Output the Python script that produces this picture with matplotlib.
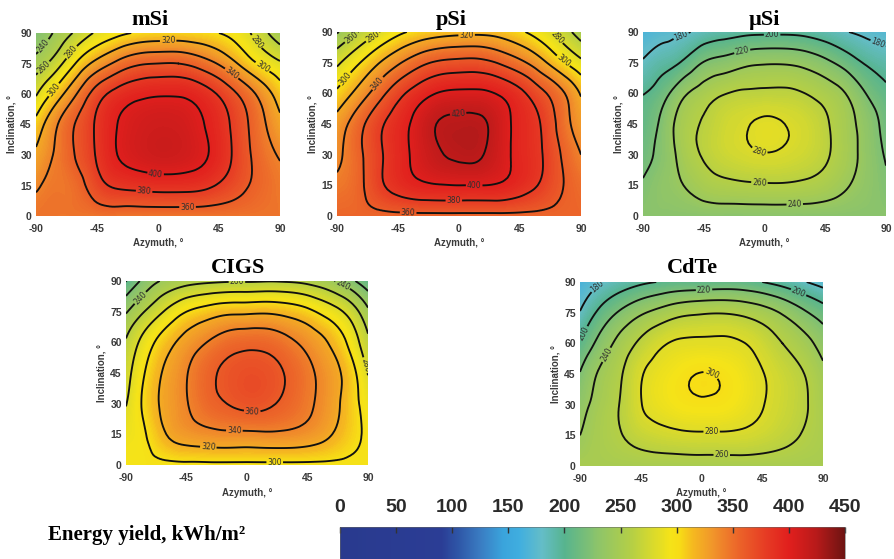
import numpy as np
import matplotlib
matplotlib.use("Agg")
import matplotlib.pyplot as plt
import matplotlib.tri as mtri
from matplotlib import font_manager
from matplotlib.colors import LinearSegmentedColormap, Normalize
from matplotlib.cm import ScalarMappable

# ---------------- data (kWh/m2) ----------------
azimuth = [-90, -75, -60, -45, -30, -15, 0, 15, 30, 45, 60, 75, 90]
inclination = [0, 15, 30, 45, 60, 75, 90]

msi = [
    [347, 347, 347, 347, 347, 347, 347, 347, 347, 347, 347, 347, 347],
    [337, 346, 352, 372, 383, 386, 388, 388, 386, 378, 366, 354, 345],
    [324, 343, 362, 382, 400, 408, 412, 411, 405, 392, 372, 352, 338],
    [307, 338, 362, 383, 400, 408, 411, 410, 403, 390, 370, 347, 325],
    [278, 309, 340, 370, 387, 395, 398, 398, 392, 378, 358, 335, 310],
    [249, 271, 302, 327, 345, 357, 360, 360, 352, 338, 318, 298, 283],
    [222, 244, 264, 283, 294, 302, 305, 306, 304, 300, 290, 270, 245],
]
psi = [
    [355, 355, 355, 355, 355, 355, 355, 355, 355, 355, 355, 355, 355],
    [345, 354, 374, 388, 396, 399, 400, 400, 398, 390, 378, 362, 350],
    [335, 354, 375, 392, 406, 418, 423, 422, 409, 394, 382, 360, 340],
    [328, 351, 374, 391, 407, 421, 424, 423.5, 410, 394, 380, 353, 330],
    [304, 326, 350, 373, 390, 401, 404, 404, 398, 385, 366, 345, 318],
    [276, 297, 318, 337, 353, 363, 366, 366, 358, 345, 327, 305, 285],
    [238, 259, 278, 295, 305, 311, 314, 315, 312, 303, 290, 272, 250],
]
usi = [
    [228, 228, 228, 228, 228, 228, 228, 228, 228, 228, 228, 228, 228],
    [222, 232, 240, 250, 255, 257, 258, 258, 256, 251, 242, 233, 223],
    [214, 228, 248, 262, 271, 276, 279, 277, 272, 263, 249, 234, 218],
    [207, 226, 250, 262, 272, 278, 283, 280, 274, 263, 248, 232, 213],
    [199, 213, 236, 250, 259, 263, 264, 264, 260, 252, 240, 220, 205],
    [182, 192, 203, 221, 228, 235, 238, 238, 234, 225, 212, 198, 190],
    [166, 173, 178, 185, 191, 195, 196, 196, 194, 188, 181, 176, 172],
]
cigs = [
    [296, 296, 296, 296, 296, 296, 296, 296, 296, 296, 296, 296, 296],
    [290, 300, 320, 330, 334, 336, 336, 337, 336, 332, 323, 309, 296],
    [279, 306, 326, 339, 352, 360, 365, 363, 355, 344, 331, 312, 290],
    [272, 302, 324, 339, 354, 364, 369, 367, 358, 345, 331, 312, 279],
    [262, 290, 312, 328, 340, 350, 354, 353, 345, 334, 320, 298, 264],
    [238, 262, 283, 300, 309, 315, 316, 317, 313, 305, 292, 275, 244],
    [199, 228, 244, 252, 256, 258, 258, 259, 258, 254, 245, 228, 205],
]
cdte = [
    [250, 250, 250, 250, 250, 250, 250, 250, 250, 250, 250, 250, 250],
    [240, 251, 259, 268, 273, 276, 277, 277, 276, 272, 266, 259, 252],
    [232, 248, 261, 279, 289, 295, 297, 296, 290, 281, 272, 263, 250],
    [221, 243, 258, 278, 289, 296, 300.6, 298, 291, 281, 271, 261, 245],
    [202, 227, 247, 264, 277, 283, 284, 284, 281, 272, 260, 248, 232],
    [181, 205, 223, 237, 247, 255, 258, 259, 256, 249, 238, 224, 210],
    [165, 178, 188, 196, 201, 204, 204, 206, 205, 200, 192, 182, 172],
]

titles = ["mSi", "pSi", "\u00b5Si", "CIGS", "CdTe"]
xticks = [-90, -45, 0, 45, 90]
yticks = [0, 15, 30, 45, 60, 75, 90]
cbar_ticks = [0, 50, 100, 150, 200, 250, 300, 350, 400, 450]
contour_levels = list(range(160, 441, 20))

# ---------------- colour map ----------------
anchors = [
    (0, "#293a8e"), (90, "#2b3d95"), (105, "#2e55a6"), (125, "#3a7cc2"),
    (145, "#3aa4dc"), (160, "#40aedf"), (180, "#64bdc8"), (200, "#57b48e"),
    (230, "#8dc46a"), (260, "#b5cf45"), (280, "#dcdb2a"), (295, "#f5e318"),
    (303, "#f7dc16"), (315, "#f5b820"), (332, "#f1962a"), (350, "#ed6e2a"),
    (380, "#e63b24"), (400, "#e11f1d"), (425, "#b81a1a"), (450, "#6e1412"),
]
cmap = LinearSegmentedColormap.from_list(
    "yield", [(v / 450.0, c) for v, c in anchors], N=512)
norm = Normalize(0, 450)

W, H = 894, 559
fig = plt.figure(figsize=(W / 100, H / 100), dpi=100)


def rect(l, t, r, b):
    return [l / W, 1 - b / H, (r - l) / W, (b - t) / H]


panels = [
    (msi, rect(36, 33, 280, 216), 150, 25),
    (psi, rect(337, 32, 581, 216), 451, 25),
    (usi, rect(643, 32, 886, 216), 764, 25),
    (cigs, rect(126, 281, 368, 465), 238, 273),
    (cdte, rect(580, 282, 823, 466), 692, 273),
]

tick_font = dict(family="Liberation Sans", weight="bold", size=7.5, color="#3a3a3a")

AZ, INC = np.meshgrid(azimuth, inclination)
triang = mtri.Triangulation(AZ.ravel(), INC.ravel())
refiner = mtri.UniformTriRefiner(triang)

for (data, r, tx, ty), title in zip(panels, titles):
    ax = fig.add_axes(r)
    Z = np.array(data, dtype=float).ravel()
    tri_f, z_f = refiner.refine_field(Z, subdiv=3)
    ax.tricontourf(tri_f, z_f, levels=np.arange(140, 452, 1.5),
                   cmap=cmap, norm=norm, extend="both")
    cs = ax.tricontour(tri_f, z_f, levels=contour_levels,
                       colors="#111111", linewidths=1.35)
    ax.clabel(cs, fmt="%d", fontsize=5.5, colors="#2f2f2f", inline=True,
              inline_spacing=1)
    ax.set_xlim(-90, 90)
    ax.set_ylim(0, 90)
    ax.set_xticks(xticks)
    ax.set_yticks(yticks)
    ax.set_xticklabels([str(v) for v in xticks], **tick_font)
    ax.set_yticklabels([str(v) for v in yticks], **tick_font)
    ax.tick_params(axis="x", length=0, pad=6)
    ax.tick_params(axis="y", length=0, pad=3)
    for s in ax.spines.values():
        s.set_visible(False)
    ax.set_xlabel("Azymuth, \u00b0", family="Liberation Sans", weight="bold",
                  size=7, color="#3a3a3a", labelpad=3)
    ax.set_ylabel("Inclination, \u00b0", family="Liberation Sans", weight="bold",
                  size=7, color="#3a3a3a", labelpad=3)
    fig.text(tx / W, 1 - ty / H, title, ha="center", va="baseline",
             family="Liberation Serif", weight="bold", size=16)

# ---------------- colour bar ----------------
installed = {f.name for f in font_manager.fontManager.ttflist}
cb_family = "Liberation Sans Narrow" if "Liberation Sans Narrow" in installed else "Liberation Sans"

cax = fig.add_axes(rect(340, 527, 845, 559))
cb = fig.colorbar(ScalarMappable(norm=norm, cmap=cmap), cax=cax,
                  orientation="horizontal", ticks=cbar_ticks)
cax.xaxis.set_ticks_position("top")
cax.xaxis.set_label_position("top")
cax.tick_params(direction="in", length=4, width=1, color="#333333", pad=8)
cax.set_xticklabels([str(v) for v in cbar_ticks], family=cb_family,
                    weight="bold", size=14, color="#2a2a2a")
cb.outline.set_linewidth(0.4)
cb.outline.set_edgecolor("#666666")

fig.text(48 / W, 1 - 540 / H, "Energy yield, kWh/m\u00b2", ha="left", va="baseline",
         family="Liberation Serif", weight="bold", size=15)

fig.savefig("out.png", dpi=100)
